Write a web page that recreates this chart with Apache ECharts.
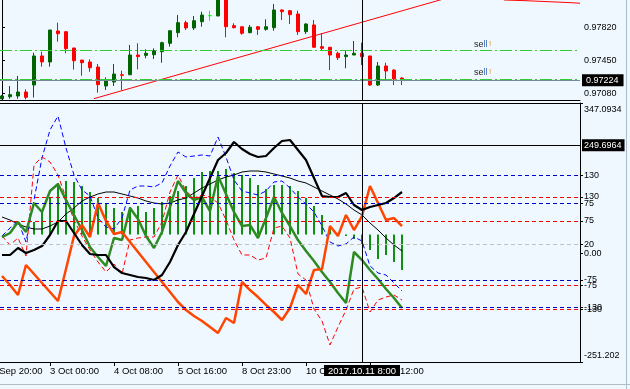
<!DOCTYPE html>
<html><head><meta charset="utf-8">
<script src="https://cdn.jsdelivr.net/npm/echarts@6/dist/echarts.min.js"></script>
<style>html,body{margin:0;padding:0;background:#F0F8FF}#c{width:630px;height:389px}</style>
</head><body><div id="c"></div><script>
const FONT = 'Liberation Sans';
// ---- upper pane: candles (bar index 0..50) ----
const openP  = [0.97016,0.97039,0.97047,0.97092,0.97171,0.97499,0.97431,0.97781,0.97773,0.97589,0.97453,0.97431,0.97374,0.97160,0.97205,0.97287,0.97287,0.97510,0.97506,0.97513,0.97547,0.97642,0.97762,0.97875,0.97815,0.97886,0.97954,0.97950,0.98164,0.97841,0.97829,0.97762,0.97829,0.97800,0.97818,0.98018,0.98010,0.97973,0.97773,0.97849,0.97604,0.97597,0.97529,0.97491,0.97510,0.97529,0.97499,0.97171,0.97386,0.97340,0.97250];
const closeP = [0.97047,0.97062,0.97092,0.97032,0.97499,0.97431,0.97792,0.97750,0.97581,0.97445,0.97423,0.97366,0.97175,0.97220,0.97295,0.97281,0.97510,0.97491,0.97529,0.97558,0.97649,0.97784,0.97875,0.97815,0.97897,0.97961,0.97954,0.98187,0.97829,0.97818,0.97755,0.97823,0.97800,0.97829,0.98018,0.97999,0.97965,0.97773,0.97860,0.97597,0.97585,0.97510,0.97479,0.97510,0.97529,0.97491,0.97171,0.97386,0.97329,0.97239,0.97224];
const lowP   = [0.97010,0.97016,0.97016,0.97010,0.97030,0.97378,0.97378,0.97660,0.97529,0.97344,0.97276,0.97321,0.97084,0.97115,0.97160,0.97115,0.97287,0.97348,0.97473,0.97465,0.97423,0.97604,0.97710,0.97792,0.97792,0.97829,0.97897,0.97950,0.97710,0.97811,0.97739,0.97755,0.97736,0.97784,0.97784,0.97905,0.97860,0.97736,0.97747,0.97597,0.97566,0.97340,0.97453,0.97360,0.97510,0.97397,0.97160,0.97160,0.97228,0.97171,0.97171];
const highP  = [0.97058,0.97160,0.97273,0.97123,0.97536,0.97547,0.97792,0.97875,0.97781,0.97589,0.97453,0.97461,0.97408,0.97258,0.97408,0.97333,0.97623,0.97642,0.97574,0.97585,0.97660,0.97784,0.97961,0.97897,0.97950,0.97999,0.98010,0.98221,0.98187,0.97868,0.97829,0.97849,0.97837,0.97913,0.98086,0.98026,0.98018,0.98010,0.97868,0.97905,0.97755,0.97597,0.97547,0.97555,0.97668,0.97649,0.97499,0.97431,0.97423,0.97348,0.97258];
const trendX = [11.5, 72.25];
const trendY = [0.97017, 0.98582];
const topLineX = [62.75, 65.5, 68.25, 71, 72.25];
const topLineY = [0.98131, 0.98123, 0.98112, 0.98101, 0.98094];
const sellLevels = [0.975663, 0.97236];
const bidPrice = 0.97224;
const priceTicks = [0.97080, 0.97450, 0.97820];

// ---- lower pane indicators ----
const orangeV = [-52.6,-73.3,-96.4,-27.1,-47.9,-68.7,-89.5,-110.3,-36.4,39.8,65.3,37.5,116.1,74.5,44.5,49.1,26.0,2.9,-20.2,-43.3,-66.4,-89.5,-112.6,-131.1,-145.0,-156.5,-170.4,-184.2,-149.6,-161.1,-66.4,-84.9,-101.1,-119.5,-135.7,-154.2,-126.5,-73.3,-94.1,-38.7,-36.4,62.9,39.8,88.4,53.7,86.0,155.3,116.1,76.8,81.4,62.9];
const greenV = [37.5,46.8,72.2,49.1,116.1,95.3,143.8,160.0,123.0,88.4,53.7,14.4,-8.7,-29.5,35.2,30.6,104.5,79.1,39.8,12.1,49.1,106.8,166.9,139.2,123.0,129.9,97.6,178.4,136.9,95.3,62.9,65.3,35.2,81.4,129.9,93.0,62.9,30.6,5.2,-17.9,-43.3,-66.4,-91.8,-114.9,2.9,-15.6,-38.7,-59.5,-82.6,-103.4,-126.5];
const blackV = [-4.0,-4.0,12.1,0.6,7.5,16.7,42.2,74.5,74.5,46.8,19.1,-1.7,-4.0,-4.0,-31.8,-45.6,-50.2,-54.9,-57.2,-61.8,-50.2,-20.2,19.1,49.1,90.7,132.2,173.8,215.4,231.6,257.0,240.8,229.3,222.3,224.6,243.1,259.3,261.6,238.5,215.4,173.8,132.2,129.9,129.9,139.2,111.5,99.9,106.8,111.5,116.1,127.6,141.5];
const thinV = [83.7,76.8,67.6,60.6,56.0,56.0,62.9,72.2,90.7,104.5,120.7,129.9,136.9,141.5,141.5,136.9,132.2,127.6,120.7,116.1,113.8,116.1,123.0,127.6,139.2,150.7,160.0,169.2,176.1,180.8,187.7,190.0,190.0,187.7,183.1,178.4,173.8,166.9,162.3,153.0,143.8,134.6,125.3,113.8,99.9,88.4,69.9,53.7,35.2,19.1,5.2];
const redV = [39.8,19.1,35.2,-6.4,203.9,222.3,210.8,180.8,127.6,76.8,39.8,7.5,-20.2,-43.3,-24.8,-47.9,30.6,35.2,37.5,37.5,72.2,141.5,180.8,143.8,127.6,134.6,129.9,116.1,76.8,30.6,-4.0,-4.0,-15.6,-11.0,58.3,62.9,35.2,-47.9,-61.8,-128.8,-156.5,-211.9,-170.4,-131.1,-82.6,-78.0,-135.7,-108.0,-101.1,-96.4,-108.0];
const blueV = [11.2,27.0,40.7,-0.6,82.1,164.8,219.9,247.4,184.4,131.3,101.8,90.0,46.7,28.9,25.0,46.7,101.8,109.6,109.6,107.7,115.6,149.0,176.6,166.7,168.7,170.7,168.7,206.1,166.7,121.5,99.8,95.9,91.9,99.8,117.5,119.5,105.7,88.0,74.2,58.5,30.9,-0.6,-8.5,-4.5,9.3,1.4,-47.8,-61.6,-65.6,-81.3,-97.0];
const histV = [null,null,null,null,25,45,73,103,107,105,97,85,73,63,53,45,55,57,45,53,65,77,87,97,113,125,127,127,131,123,119,113,99,91,99,99,97,87,73,57,39,11,3,-3,-9,-19,-31,-49,-41,-55,-71];
const redLevels = [130, 75, -75, -130];
const blueLevels = [130, 75, -75, -130];
const grayLevel = 20;
const redAxisLabels = [347.0934, 130, 75, 20, 0, -75, -130, -251.202];
const tickBars = [6, 14, 22, 30, 38, 46];
const tickLabels = ['3 Oct 00:00', '4 Oct 08:00', '5 Oct 16:00', '8 Oct 23:00', '10 Oct 07:00', '11 Oct 12:00'];
const crossBar = 45;
const crossTime = '2017.10.11 8:00';
const crossValue = 249.6964;

const pairs = arr => arr.map((v, i) => [i, v == null ? '-' : v]);
const boxLabel = (txt, pos, extra) => Object.assign({
  show: true, position: pos, formatter: txt, backgroundColor: '#000', color: '#fff',
  fontFamily: FONT, fontSize: 9, padding: [1, 5, 1, 4], distance: 2, lineHeight: 10
}, extra || {});

const chart = echarts.init(document.getElementById('c'));
const lbl = {color: '#000', fontFamily: FONT, fontSize: 9, margin: 4};
const option = {
  backgroundColor: '#F0F8FF',
  animation: false,
  textStyle: {fontFamily: FONT},
  grid: [
    {left: 0, top: 0, width: 580, height: 100},
    {left: 0, top: 103, width: 580, height: 259}
  ],
  xAxis: [
    {type: 'value', gridIndex: 0, min: -0.25, max: 72.25, axisLine: {show: true, onZero: false, lineStyle: {color: '#000'}},
     axisTick: {show: false}, axisLabel: {show: false}, splitLine: {show: false}},
    {type: 'value', gridIndex: 1, min: -0.25, max: 72.25, position: 'bottom',
     axisLine: {show: true, onZero: false, lineStyle: {color: '#000'}},
     axisTick: {show: true, customValues: tickBars, length: 4, lineStyle: {color: '#000'}},
     axisLabel: Object.assign({}, lbl, {customValues: tickBars, fontSize: 9.5, align: 'left', margin: 4,
       formatter: v => tickLabels[tickBars.indexOf(v)]}),
     splitLine: {show: false}},
    {type: 'value', gridIndex: 1, min: -0.25, max: 72.25, position: 'top',
     axisLine: {show: true, onZero: false, lineStyle: {color: '#000'}},
     axisTick: {show: false}, axisLabel: {show: false}, splitLine: {show: false}}
  ],
  yAxis: [
    {type: 'value', gridIndex: 0, position: 'right', min: 0.970018, max: 0.981308,
     axisLine: {show: true, lineStyle: {color: '#000'}},
     axisTick: {show: true, customValues: priceTicks, length: 3, lineStyle: {color: '#000'}},
     axisLabel: Object.assign({}, lbl, {customValues: priceTicks, formatter: v => v.toFixed(5)}),
     splitLine: {show: false}},
    {type: 'value', gridIndex: 1, position: 'right', min: -251.202, max: 347.0934,
     axisLine: {show: true, onZero: false, lineStyle: {color: '#000'}},
     axisTick: {show: true, customValues: redAxisLabels, length: 3, lineStyle: {color: '#000'}},
     axisLabel: Object.assign({}, lbl, {customValues: redAxisLabels,
       formatter: v => v === 0 ? '0.00' : (v === redAxisLabels[0] ? '{t|' + v + '}' : (v === redAxisLabels[redAxisLabels.length - 1] ? '{b|' + v + '}' : String(v))),
       rich: {t: {padding: [13, 0, 0, 0], fontSize: 9, fontFamily: FONT, color: '#000'},
              b: {padding: [0, 0, 13, 0], fontSize: 9, fontFamily: FONT, color: '#000'}}}),
     splitLine: {show: false}},
    {type: 'value', gridIndex: 1, position: 'right', min: -236.8, max: 273.0,
     axisLine: {show: false, onZero: false},
     axisTick: {show: true, customValues: blueLevels, length: 3, lineStyle: {color: '#000'}},
     axisLabel: Object.assign({}, lbl, {customValues: blueLevels, formatter: v => String(v)}),
     splitLine: {show: false}},
    {type: 'value', gridIndex: 1, position: 'right', min: -255, max: 263, show: false, splitLine: {show: false}}
  ],
  series: [
    {type: 'line', xAxisIndex: 0, yAxisIndex: 0, symbol: 'none', clip: true,
     lineStyle: {color: '#FF0000', width: 1}, data: topLineX.map((x, i) => [x, topLineY[i]]),
     markLine: {symbol: 'none', silent: true, animation: false, precision: 6, label: {show: false},
       data: [
         {yAxis: sellLevels[0], lineStyle: {color: '#32CD32', type: [12, 3, 2, 3], width: 1}},
         {yAxis: sellLevels[1], lineStyle: {color: '#32CD32', type: [12, 3, 2, 3], width: 1}},
         {yAxis: bidPrice, lineStyle: {color: '#778899', type: 'solid', width: 1}, label: boxLabel('0.97224', 'end')},
         {xAxis: crossBar, lineStyle: {color: '#000', type: 'solid', width: 1}}
       ]}},
    {type: 'candlestick', xAxisIndex: 0, yAxisIndex: 0, barWidth: 4, clip: true,
     encode: {x: 0, y: [1, 2, 3, 4]},
     itemStyle: {color: '#006400', color0: '#FF0000', borderColor: '#006400', borderColor0: '#FF0000', borderColorDoji: '#00FF00', borderWidth: 1},
     data: openP.map((o, i) => o === closeP[i]
       ? {value: [i, o, closeP[i], lowP[i], highP[i]], itemStyle: {color: '#00FF00', borderColor: '#00FF00', borderColor0: '#00FF00', borderColorDoji: '#00FF00'}}
       : [i, o, closeP[i], lowP[i], highP[i]])},
    {type: 'line', xAxisIndex: 0, yAxisIndex: 0, symbol: 'none', clip: true,
     lineStyle: {color: '#FF0000', width: 1}, data: trendX.map((x, i) => [x, trendY[i]])},

    {type: 'bar', xAxisIndex: 1, yAxisIndex: 3, barWidth: 2, itemStyle: {color: '#109010'}, data: pairs(histV)},
    {type: 'line', xAxisIndex: 1, yAxisIndex: 1, symbol: 'none', clip: true,
     lineStyle: {color: '#000', width: 1}, data: pairs(thinV),
     markLine: {symbol: 'none', silent: true, animation: false, precision: 4, label: {show: false},
       data: redLevels.map(v => ({yAxis: v, lineStyle: {color: '#FF0000', type: [4, 3], width: 1}}))
         .concat([{yAxis: grayLevel, lineStyle: {color: '#C0C0C0', type: [4, 3], width: 1}}])}},
    {type: 'line', xAxisIndex: 1, yAxisIndex: 2, symbol: 'none', clip: true,
     lineStyle: {color: '#0000FF', width: 1, type: [5, 3]}, data: pairs(blueV),
     markLine: {symbol: 'none', silent: true, animation: false, precision: 4, label: {show: false},
       data: blueLevels.map(v => ({yAxis: v, lineStyle: {color: '#0000CD', type: [4, 3], width: 1}}))}},
    {type: 'line', xAxisIndex: 1, yAxisIndex: 1, symbol: 'none', clip: true,
     lineStyle: {color: '#FF0000', width: 1, type: [5, 3]}, data: pairs(redV)},
    {type: 'line', xAxisIndex: 1, yAxisIndex: 1, symbol: 'none', clip: true,
     lineStyle: {color: '#2E8B22', width: 2.5}, data: pairs(greenV)},
    {type: 'line', xAxisIndex: 1, yAxisIndex: 1, symbol: 'none', clip: true,
     lineStyle: {color: '#FF4500', width: 2.5}, data: pairs(orangeV)},
    {type: 'line', xAxisIndex: 1, yAxisIndex: 1, symbol: 'none', clip: true,
     lineStyle: {color: '#000', width: 2.2}, data: pairs(blackV),
     markLine: {symbol: 'none', silent: true, animation: false, precision: 4, label: {show: false},
       data: [
         {yAxis: crossValue, lineStyle: {color: '#000', type: 'solid', width: 1}, label: boxLabel('249.6964', 'end', {padding: [1, 3, 1, 2]})},
         {xAxis: crossBar, lineStyle: {color: '#000', type: 'solid', width: 1}, label: boxLabel(crossTime, 'start', {fontSize: 9.5, padding: [1, 4, 0, 4], distance: 3})}
       ]}}
  ],
  graphic: [
    {type: 'text', left: -14, top: 366, style: {text: '29 Sep 20:00', font: '9.5px ' + FONT, fill: '#000'}},
    {type: 'text', x: 474, y: 40, style: {text: '{a|se}{b|ll}', rich: {a: {fill: '#222', font: '9px ' + FONT}, b: {fill: '#3766B0', font: '9px ' + FONT}}}},
    {type: 'text', x: 489, y: 40, style: {text: '!', font: '8px ' + FONT, fill: '#E8900A'}},
    {type: 'text', x: 474, y: 68, style: {text: '{a|se}{b|ll}', rich: {a: {fill: '#222', font: '9px ' + FONT}, b: {fill: '#3766B0', font: '9px ' + FONT}}}},
    {type: 'text', x: 489, y: 68, style: {text: '!', font: '8px ' + FONT, fill: '#E8900A'}},
    {type: 'line', shape: {x1: 0, y1: 384.5, x2: 630, y2: 384.5}, style: {stroke: '#B4BCC4', lineWidth: 1}},
    {type: 'line', shape: {x1: 626.5, y1: 0, x2: 626.5, y2: 389}, style: {stroke: '#A9BCD0', lineWidth: 1}}
  ]
};
chart.setOption(option);
</script></body></html>
